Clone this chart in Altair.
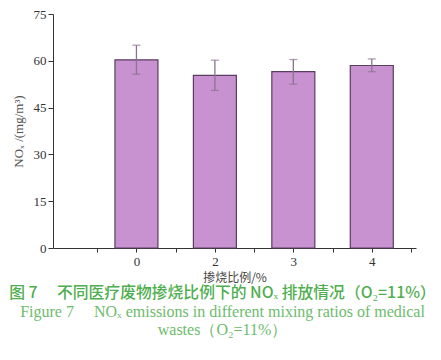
import altair as alt
import pandas as pd

categories = ["0", "2", "3", "4"]
positions = [1, 2, 3, 4]
values = [60.3, 55.3, 56.5, 58.5]
err_low = [55.7, 50.5, 52.5, 56.5]
err_high = [65.0, 60.2, 60.4, 60.6]

df = pd.DataFrame({"pos": positions, "cat": categories, "v": values,
                   "lo": err_low, "hi": err_high})

label_arr = "[" + ",".join("'" + c + "'" for c in categories) + "]"
x_label_expr = f"datum.value % 1 == 0 ? {label_arr}[datum.value - 1] : ''"

SERIF = "Liberation Serif"
AX = "#333333"

x = alt.X("pos:Q", scale=alt.Scale(domain=[0, 4.5], nice=False, zero=False),
          axis=alt.Axis(title="掺烧比例/%", values=[0.5, 1, 1.5, 2, 2.5, 3, 3.5, 4, 4.5],
                        labelExpr=x_label_expr, grid=False, tickSize=4,
                        labelFont=SERIF, labelFontSize=13, labelColor="#333",
                        titleFont="Noto Sans CJK SC", titleFontSize=12,
                        titleFontWeight="normal", titleColor="#444",
                        titlePadding=4, labelPadding=3,
                        domainColor=AX, tickColor=AX))
y_axis = alt.Axis(title="NOₓ /(mg/m³)", values=[i * 7.5 for i in range(11)],
                  labelExpr="datum.value % 15 == 0 ? datum.label : ''",
                  grid=False, tickSize=5, labelFont=SERIF, labelFontSize=13,
                  labelColor="#333", titleFont=SERIF, titleFontSize=13,
                  titleFontWeight="normal", titleColor="#555", titlePadding=8,
                  domainColor=AX, tickColor=AX)
y = alt.Y("v:Q", scale=alt.Scale(domain=[0, 75], nice=False), axis=y_axis)

bars = alt.Chart(df).mark_bar(size=43, color="#c892d0", stroke="#5b3d63",
                              strokeWidth=1.2).encode(x=x, y=y)
rules = alt.Chart(df).mark_rule(color="#8a7390", strokeWidth=1.3).encode(
    x="pos:Q", y="lo:Q", y2="hi:Q")
caps_lo = alt.Chart(df).mark_tick(orient="horizontal", size=8, thickness=1.3,
                                  color="#8a7390").encode(x="pos:Q", y="lo:Q")
caps_hi = alt.Chart(df).mark_tick(orient="horizontal", size=8, thickness=1.3,
                                  color="#8a7390").encode(x="pos:Q", y="hi:Q")

chart = alt.layer(bars, rules, caps_lo, caps_hi).properties(
    width=363, height=234,
    title=alt.TitleParams(
        text="图 7　 不同医疗废物掺烧比例下的 NOₓ 排放情况（O₂=11%）",
        subtitle=["Figure 7　 NOₓ emissions in different mixing ratios of medical",
                  "wastes（O₂=11%）"],
        orient="bottom", anchor="middle", dx=-12, offset=3,
        font="Noto Sans CJK SC", fontSize=15.8, fontWeight=500, color="#4fae4f",
        subtitleFont=SERIF, subtitleFontSize=16, subtitleColor="#6dbb6d",
        subtitlePadding=2, subtitleLineHeight=18),
    autosize=alt.AutoSizeParams(type="none"),
    padding={"left": 45, "top": 6, "right": 17, "bottom": 96},
).configure(background="white", view=alt.ViewConfig(strokeWidth=0))

chart.save("out.html", embed_options={"renderer": "svg", "actions": False})
